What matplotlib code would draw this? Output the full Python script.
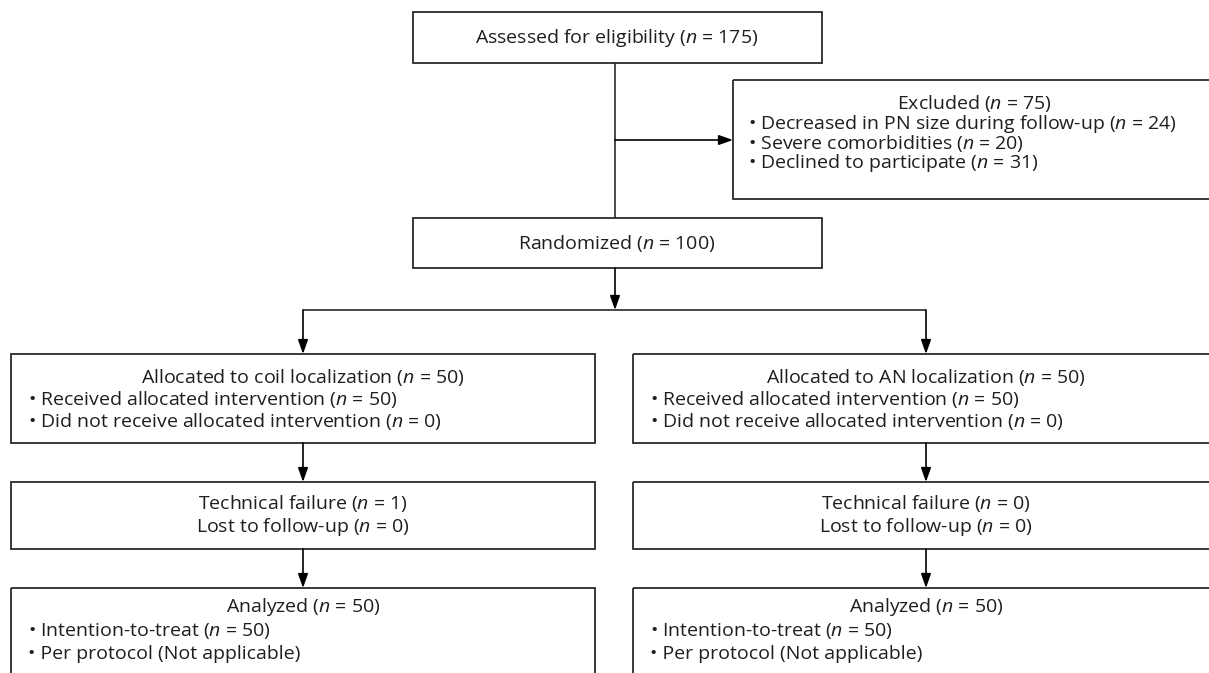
import matplotlib
matplotlib.use("Agg")
import matplotlib.pyplot as plt
from matplotlib.patches import Rectangle

plt.rcParams['font.family'] = ['Open Sans', 'DejaVu Sans']
plt.rcParams['mathtext.fontset'] = 'custom'
plt.rcParams['mathtext.rm'] = 'Open Sans'
plt.rcParams['mathtext.it'] = 'Open Sans:italic'

# counts
assessed = 175
excluded = 75
excl_reasons = ["Decreased in PN size during follow-up", "Severe comorbidities", "Declined to participate"]
excl_counts = [24, 20, 31]
randomized = 100
arms = ["coil", "AN"]
allocated = [50, 50]
received = [50, 50]
not_received = [0, 0]
tech_failure = [1, 0]
lost = [0, 0]
analyzed = [50, 50]
itt = [50, 50]

INK = "#1e1e1e"
LINE = "#2a2a2a"
FS = 14


def n(v):
    return "($n$ = %d)" % v


fig = plt.figure(figsize=(12.09, 6.73), dpi=100)
ax = fig.add_axes([0, 0, 1, 1])
ax.set_xlim(0, 1209)
ax.set_ylim(673, 0)
ax.axis("off")


def box(x0, y0, x1, y1):
    ax.add_patch(Rectangle((x0, y0), x1 - x0, y1 - y0, fill=False,
                           edgecolor=LINE, lw=1.3, clip_on=True))


def line(pts):
    xs, ys = zip(*pts)
    ax.plot(xs, ys, color=LINE, lw=1.2, solid_capstyle="butt")


def arrow(x0, y0, x1, y1):
    ax.annotate("", xy=(x1, y1), xytext=(x0, y0),
                arrowprops=dict(arrowstyle="-|>,head_length=0.85,head_width=0.3",
                                color="black", lw=1.2, shrinkA=0, shrinkB=0))


def ctext(x, y, s):
    ax.text(x, y, s, ha="center", va="center", fontsize=FS, color=INK)


def ltext(x, y, s):
    ax.text(x, y, s, ha="left", va="center", fontsize=FS, color=INK)


# top
box(413, 12, 822, 63)
ctext(617, 38, "Assessed for eligibility " + n(assessed))
line([(615, 63), (615, 218)])
arrow(615, 140, 733, 140)

# excluded
box(733, 80, 1230, 199)
ctext(974, 103, "Excluded " + n(excluded))
for i, (r, c) in enumerate(zip(excl_reasons, excl_counts)):
    ltext(748, 124 + 19.7 * i, "\u2022 " + r + " " + n(c))

# randomized
box(413, 218, 822, 268)
ctext(617, 243, "Randomized " + n(randomized))
arrow(615, 268, 615, 310)
line([(303, 310), (926, 310)])

cols = [(11, 595, 303, 28), (633, 1240, 926, 650)]
for k, (x0, x1, cx, bx) in enumerate(cols):
    arrow(cx, 310, cx, 354)
    box(x0, 354, x1, 443)
    ctext(cx, 377, "Allocated to %s localization " % arms[k] + n(allocated[k]))
    ltext(bx, 399, "\u2022 Received allocated intervention " + n(received[k]))
    ltext(bx, 421, "\u2022 Did not receive allocated intervention " + n(not_received[k]))

    arrow(cx, 443, cx, 482)
    box(x0, 482, x1, 549)
    ctext(cx, 504, "Technical failure " + n(tech_failure[k]))
    ctext(cx, 527, "Lost to follow-up " + n(lost[k]))

    arrow(cx, 549, cx, 588)
    box(x0, 588, x1, 700)
    ctext(cx, 607, "Analyzed " + n(analyzed[k]))
    ltext(bx, 631, "\u2022 Intention-to-treat " + n(itt[k]))
    ltext(bx, 654, "\u2022 Per protocol (Not applicable)")

fig.savefig("out.png", dpi=100)
